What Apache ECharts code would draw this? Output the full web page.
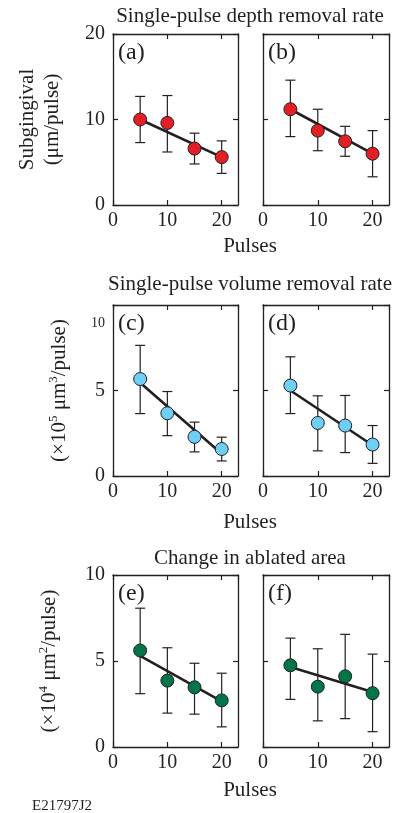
<!DOCTYPE html>
<html>
<head>
<meta charset="utf-8">
<script src="https://cdn.jsdelivr.net/npm/echarts@6/dist/echarts.min.js"></script>
<style>
  html, body { margin: 0; padding: 0; background: #fff; }
  #main { width: 395px; height: 813px; }
</style>
</head>
<body>
<div id="main"></div>
<script>
// pulses on the x axis
const pulses = [5, 10, 15, 20];

// (a) depth removal, condition 1
const aMean = [10.0, 9.6, 6.6, 5.6];
const aHi = [12.7, 12.8, 8.4, 7.5];
const aLo = [7.3, 6.2, 4.8, 3.7];
const aFit = [10.0, 5.6];
// (b) depth removal, condition 2
const bMean = [11.2, 8.7, 7.45, 6.0];
const bHi = [14.6, 11.2, 9.2, 8.7];
const bLo = [8.0, 6.35, 5.7, 3.3];
const bFit = [11.2, 6.0];
// (c) volume removal
const cMean = [5.67, 3.67, 2.29, 1.58];
const cHi = [7.64, 4.94, 3.15, 2.27];
const cLo = [3.65, 2.36, 1.41, 0.88];
const cFit = [5.45, 1.3];
// (d)
const dMean = [5.29, 3.1, 2.95, 1.84];
const dHi = [6.97, 4.69, 4.71, 2.95];
const dLo = [3.65, 1.47, 1.37, 0.74];
const dFit = [5.0, 1.8];
// (e) ablated area
const eMean = [5.61, 3.86, 3.47, 2.71];
const eHi = [8.07, 5.77, 4.87, 4.29];
const eLo = [3.1, 1.97, 1.91, 1.17];
const eFit = [5.3, 2.65];
// (f)
const fMean = [4.75, 3.51, 4.11, 3.13];
const fHi = [6.33, 5.71, 6.55, 5.4];
const fLo = [2.77, 1.52, 1.65, 0.89];
const fFit = [4.65, 3.2];

const fitX = [5, 20];
const yMax = [20, 10, 10];
const yStep = [10, 5, 5];

const serif = 'Liberation Serif';
const ink = '#231f20';
const red = '#e31f26';
const blue = '#6dcff6';
const green = '#007549';

const panels = [
  { tag: '(a)', mean: aMean, hi: aHi, lo: aLo, fit: aFit, color: red, row: 0, col: 0 },
  { tag: '(b)', mean: bMean, hi: bHi, lo: bLo, fit: bFit, color: red, row: 0, col: 1 },
  { tag: '(c)', mean: cMean, hi: cHi, lo: cLo, fit: cFit, color: blue, row: 1, col: 0 },
  { tag: '(d)', mean: dMean, hi: dHi, lo: dLo, fit: dFit, color: blue, row: 1, col: 1 },
  { tag: '(e)', mean: eMean, hi: eHi, lo: eLo, fit: eFit, color: green, row: 2, col: 0 },
  { tag: '(f)', mean: fMean, hi: fHi, lo: fLo, fit: fFit, color: green, row: 2, col: 1 }
];

const rowTop = [34, 305, 575];
const rowH = [171, 171, 172];
const colLeft = [113, 263];
const colW = [125, 126];

var myChart = echarts.init(document.getElementById('main'));

const grid = [], xAxis = [], yAxis = [], series = [], graphic = [];

const yNames = [
  'Subgingival\n(μm/pulse)',
  '(×10{sup|5} μm{sup|3}/pulse)',
  '(×10{sup|4} μm{sup|2}/pulse)'
];
const yNameGap = [48, 41, 51];

panels.forEach(function (p, i) {
  grid.push({ left: colLeft[p.col], top: rowTop[p.row], width: colW[p.col], height: rowH[p.row] });
  const lineStyle = { color: ink, width: 1.3 };
  const tick = { show: true, inside: true, length: 5, lineStyle: { color: ink, width: 1.2 } };
  // bottom x
  xAxis.push({
    gridIndex: i, type: 'value', min: 0, max: 23, interval: 10,
    axisLine: { show: true, onZero: false, lineStyle: lineStyle },
    axisTick: tick,
    splitLine: { show: false },
    axisLabel: { show: true, margin: 6, color: ink, fontFamily: serif, fontSize: 20 }
  });
  // top x (ticks only)
  xAxis.push({
    gridIndex: i, type: 'value', min: 0, max: 23, interval: 10, position: 'top',
    axisLine: { show: true, onZero: false, lineStyle: lineStyle },
    axisTick: tick, splitLine: { show: false }, axisLabel: { show: false }
  });
  const left = p.col === 0;
  yAxis.push({
    gridIndex: i, type: 'value', min: 0, max: yMax[p.row], interval: yStep[p.row],
    axisLine: { show: true, onZero: false, lineStyle: lineStyle },
    axisTick: tick,
    splitLine: { show: false },
    name: left ? yNames[p.row] : '',
    nameLocation: 'middle',
    nameRotate: 90,
    nameGap: yNameGap[p.row],
    nameTextStyle: {
      color: ink, fontFamily: serif, fontSize: 21, lineHeight: 25,
      rich: { sup: { fontFamily: serif, fontSize: 13, verticalAlign: 'top', color: ink } }
    },
    axisLabel: {
      show: left, margin: 8, color: ink, fontFamily: serif, fontSize: 20,
      formatter: function (v) {
        if (p.row === 1 && v === 10) return '{s|10}';
        return String(v);
      },
      rich: { s: { fontFamily: serif, fontSize: 14, color: ink, padding: [36, 0, 0, 0] } }
    }
  });
  yAxis.push({
    gridIndex: i, type: 'value', min: 0, max: yMax[p.row], interval: yStep[p.row], position: 'right',
    axisLine: { show: true, onZero: false, lineStyle: lineStyle },
    axisTick: tick, splitLine: { show: false }, axisLabel: { show: false }
  });

  const bars = pulses.map(function (x, k) { return [x, p.lo[k], p.hi[k]]; });
  series.push({
    type: 'custom', xAxisIndex: 2 * i, yAxisIndex: 2 * i, z: 1,
    data: bars,
    encode: { x: 0, y: [1, 2] },
    renderItem: function (params, api) {
      const x = api.value(0);
      const top = api.coord([x, api.value(2)]);
      const bot = api.coord([x, api.value(1)]);
      const w = 5;
      const st = { stroke: ink, lineWidth: 1.2 };
      return {
        type: 'group', children: [
          { type: 'line', shape: { x1: top[0], y1: top[1], x2: bot[0], y2: bot[1] }, style: st },
          { type: 'line', shape: { x1: top[0] - w, y1: top[1], x2: top[0] + w, y2: top[1] }, style: st },
          { type: 'line', shape: { x1: bot[0] - w, y1: bot[1], x2: bot[0] + w, y2: bot[1] }, style: st }
        ]
      };
    }
  });
  series.push({
    type: 'line', xAxisIndex: 2 * i, yAxisIndex: 2 * i, z: 2,
    data: fitX.map(function (x, k) { return [x, p.fit[k]]; }),
    showSymbol: false, lineStyle: { color: ink, width: 2.6 }, silent: true
  });
  series.push({
    type: 'scatter', xAxisIndex: 2 * i, yAxisIndex: 2 * i, z: 3,
    data: pulses.map(function (x, k) { return [x, p.mean[k]]; }),
    symbolSize: 13,
    itemStyle: { color: p.color, borderColor: ink, borderWidth: 1, opacity: 1 }
  });

  graphic.push({
    type: 'text', left: colLeft[p.col] + 5, top: rowTop[p.row] + 7,
    style: { text: p.tag, font: '24px "Liberation Serif"', fill: ink }
  });
});

const titles = [
  { text: 'Single-pulse depth removal rate', y: 6 },
  { text: 'Single-pulse volume removal rate', y: 274 },
  { text: 'Change in ablated area', y: 548 }
];
titles.forEach(function (t) {
  graphic.push({
    type: 'text', x: 250, y: t.y,
    style: { text: t.text, font: '21px "Liberation Serif"', fill: ink, textAlign: 'center' }
  });
});
[236, 512, 780].forEach(function (y) {
  graphic.push({
    type: 'text', x: 250, y: y,
    style: { text: 'Pulses', font: '21px "Liberation Serif"', fill: ink, textAlign: 'center' }
  });
});
graphic.push({
  type: 'text', x: 32, y: 799,
  style: { text: 'E21797J2', font: '15px "Liberation Serif"', fill: ink }
});

myChart.setOption({
  animation: false,
  textStyle: { fontFamily: serif },
  grid: grid,
  xAxis: xAxis,
  yAxis: yAxis,
  series: series,
  graphic: graphic
});
</script>
</body>
</html>
